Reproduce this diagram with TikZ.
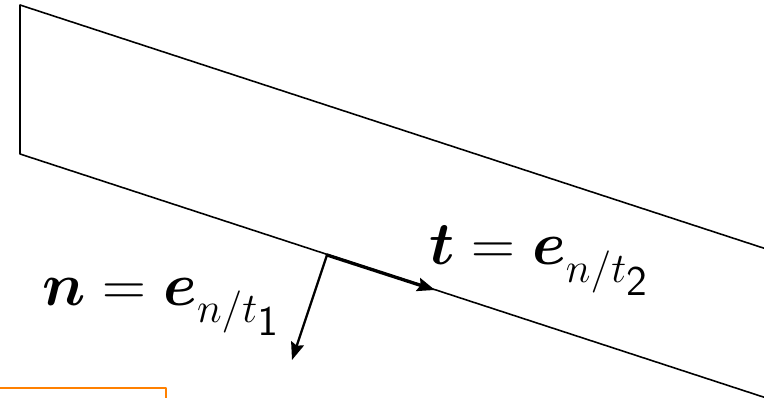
\documentclass[tikz,border=0pt]{standalone}
\usepackage{amsmath,amssymb}
\usetikzlibrary{arrows.meta,calc}
\usepackage{tkz-euclide}
\definecolor{BoxClr}{rgb}{1,0.5,0}
\newcommand{\vecsub}[1]{\lower2.5pt\hbox{$\scriptstyle n/t_{\scriptstyle\mathsf{#1}}$}}

\begin{document}
\begin{tikzpicture}
\useasboundingbox (0,0) rectangle (7.64,3.98);
\clip (0,0) rectangle (7.64,3.98);

\tkzDefPoints{0.20/3.93/a1,0.20/2.44/a2,8.00/-0.11/a3,8.00/1.38/a4,3.27/1.43/p0,4.35/1.08/t0,2.92/0.38/n0}
\tkzDefPoints{0.42/0.93/l1,4.29/1.33/l2,-0.10/0.10/o1,1.66/0.10/o2,1.66/-0.10/o3,-0.10/-0.10/o4}

\tkzDrawPolygon[line width=0.45pt,color=black](a1,a2,a3,a4)
\tkzDrawPolygon[line width=0.6pt,color=BoxClr](o1,o2,o3,o4)

\tkzDrawSegments[line width=0.95pt,-{Stealth[length=5pt,width=3.8pt,inset=0.7pt]}](p0,t0)
\tkzDrawSegments[line width=0.65pt,-{Stealth[length=5pt,width=3.8pt,inset=0.7pt]}](p0,n0)

\tkzLabelPoint[anchor=base west,inner sep=0pt,font=\fontsize{18}{22}\selectfont](l1){$\boldsymbol{n}=\boldsymbol{e}_{\vecsub{1}}$}
\tkzLabelPoint[anchor=base west,inner sep=0pt,font=\fontsize{18}{22}\selectfont](l2){$\boldsymbol{t}=\boldsymbol{e}_{\vecsub{2}}$}

\end{tikzpicture}
\end{document}
